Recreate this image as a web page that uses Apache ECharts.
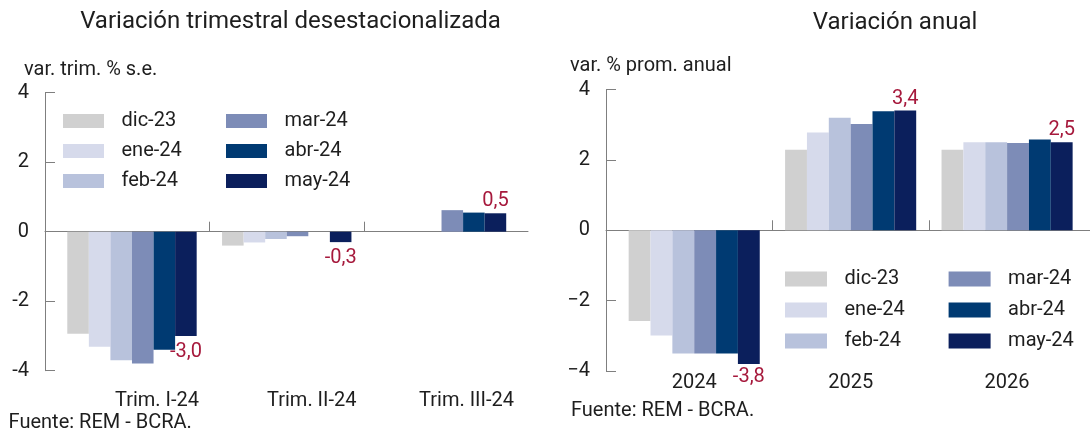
<!DOCTYPE html>
<html><head><meta charset="utf-8">
<script src="https://cdn.jsdelivr.net/npm/echarts@6/dist/echarts.min.js"></script>
<style>html,body{margin:0;padding:0;background:#fff}#c{width:1090px;height:433px}</style>
</head><body><div id="c"></div>
<script>
// ---- data ----
const seriesNames = ['dic-23', 'ene-24', 'feb-24', 'mar-24', 'abr-24', 'may-24'];
const trimCategories = ['Trim. I-24', 'Trim. II-24', 'Trim. III-24'];
const anualCategories = ['2024', '2025', '2026'];

const dic23Trim = [-2.94, -0.40, null];
const ene24Trim = [-3.31, -0.31, null];
const feb24Trim = [-3.70, -0.21, null];
const mar24Trim = [-3.79, -0.13, 0.62];
const abr24Trim = [-3.40, null, 0.55];
const may24Trim = [-3.0, -0.3, 0.53];

const dic23Anual = [-2.58, 2.29, 2.29];
const ene24Anual = [-2.99, 2.78, 2.5];
const feb24Anual = [-3.5, 3.2, 2.5];
const mar24Anual = [-3.5, 3.02, 2.48];
const abr24Anual = [-3.5, 3.38, 2.58];
const may24Anual = [-3.8, 3.4, 2.5];

const yTickMin = -4, yTickMax = 4, yTickStep = 2;
const sepTicks = [1, 2];

// ---- styles ----
const colors = ['#d0d0d0', '#d6daeb', '#b8c2dc', '#7d8cb7', '#003a72', '#0b1f5c'];
const FONT = 'Roboto';
const TXT = '#1e1e1e';
const RED = '#a6193c';
const AXIS = '#7f7f7f';
const fmt = v => v.toFixed(1).replace('.', ',');

const trimData = [dic23Trim, ene24Trim, feb24Trim, mar24Trim, abr24Trim, may24Trim];
const anualData = [dic23Anual, ene24Anual, feb24Anual, mar24Anual, abr24Anual, may24Anual];

function makeSeries(values, i, axisIdx, gap, negDist) {
  const labeled = i === seriesNames.length - 1;
  return {
    type: 'bar', name: seriesNames[i], xAxisIndex: axisIdx, yAxisIndex: axisIdx,
    data: values.map(v => (labeled && v != null) ? {
      value: v,
      label: { show: true, position: v < 0 ? 'bottom' : 'top', distance: v < 0 ? negDist : 2 }
    } : v),
    itemStyle: { color: colors[i] },
    barGap: '0%', barCategoryGap: gap,
    label: { show: false, color: RED, fontSize: 20, fontFamily: FONT, formatter: p => fmt(p.value) },
    emphasis: { disabled: true },
    animation: false
  };
}

const series = [];
trimData.forEach((d, i) => series.push(makeSeries(d, i, 1, '16.4%', 6)));
anualData.forEach((d, i) => series.push(makeSeries(d, i, 3, '16.2%', 3)));

function frameX(gridIndex, min, max) {
  return {
    type: 'value', gridIndex, min, max,
    axisLine: { show: true, onZero: true, lineStyle: { color: AXIS, width: 1 } },
    axisTick: { show: true, inside: true, length: 10, customValues: sepTicks, lineStyle: { color: AXIS } },
    axisLabel: { show: false }, splitLine: { show: false }
  };
}
function frameY(gridIndex, formatter) {
  return {
    type: 'value', gridIndex, min: yTickMin, max: yTickMax, interval: yTickStep,
    axisLine: { show: true, onZero: false, lineStyle: { color: AXIS, width: 1 } },
    axisTick: { show: true, inside: true, length: 10, lineStyle: { color: AXIS } },
    axisLabel: { show: true, margin: 16, fontSize: 20, fontFamily: FONT, color: TXT, formatter },
    splitLine: { show: false }
  };
}
function barsX(gridIndex, data, labelOpts) {
  return {
    type: 'category', gridIndex, data,
    axisLine: { show: false, onZero: false }, axisTick: { show: false },
    axisLabel: Object.assign({ fontSize: 20, fontFamily: FONT, color: TXT, interval: 0 }, labelOpts),
    splitLine: { show: false }
  };
}
function barsY(gridIndex) {
  return { type: 'value', gridIndex, min: yTickMin, max: yTickMax, interval: yTickStep, show: false };
}

function legend(names, left, top, iw, ih, gap) {
  return {
    data: names, orient: 'vertical', left, top, padding: 0,
    itemWidth: iw, itemHeight: ih, itemGap: gap, icon: 'rect',
    selectedMode: false,
    textStyle: { fontSize: 20, fontFamily: FONT, color: TXT, lineHeight: 20, padding: [0, 0, 0, 12.5] }
  };
}

function text(t, x, y, size, align) {
  return { type: 'text', x, y, silent: true,
    style: { text: t, font: size + 'px ' + FONT, fill: TXT, align, verticalAlign: 'middle' } };
}

const option = {
  animation: false,
  backgroundColor: '#fff',
  grid: [
    { left: 45, right: 1090 - 528, top: 92.7, bottom: 433 - 370.7 },
    { left: 54.6, right: 1090 - 518.9, top: 92.7, bottom: 433 - 370.7 },
    { left: 606, right: 0, top: 89.5, bottom: 433 - 371 },
    { left: 616, right: 1090 - 1085.3, top: 89.5, bottom: 433 - 371 }
  ],
  xAxis: [
    frameX(0, -(54.6 - 45) / 154.77, 3 + (528 - 518.9) / 154.77),
    barsX(1, trimCategories, { margin: 20, padding: [0, 0, 0, 50] }),
    frameX(2, -(616 - 606) / 156.43, 3 + (1090 - 1085.3) / 156.43),
    barsX(3, anualCategories, { margin: 2 })
  ],
  yAxis: [
    frameY(0),
    barsY(1),
    frameY(2, v => v < 0 ? '\u2212' + Math.abs(v) : String(v)),
    barsY(3)
  ],
  legend: [
    legend(seriesNames.slice(0, 3), 63, 111, 41, 14, 10),
    legend(seriesNames.slice(3), 226, 111, 41, 14, 10),
    legend(seriesNames.slice(0, 3), 785, 269, 42, 15, 11),
    legend(seriesNames.slice(3), 948.6, 269, 42, 15, 11)
  ],
  graphic: [
    text('Variación trimestral desestacionalizada', 290.5, 22, 24, 'center'),
    text('Variación anual', 895, 22.5, 24, 'center'),
    text('var. trim. % s.e.', 24, 69.5, 20, 'left'),
    text('var. % prom. anual', 570, 65.5, 20, 'left'),
    text('Fuente: REM - BCRA.', 8.6, 422.5, 20, 'left'),
    text('Fuente: REM - BCRA.', 571, 410.7, 20, 'left')
  ],
  series
};

const chart = echarts.init(document.getElementById('c'), null, { renderer: 'canvas' });
chart.setOption(option);
</script>
</body></html>
